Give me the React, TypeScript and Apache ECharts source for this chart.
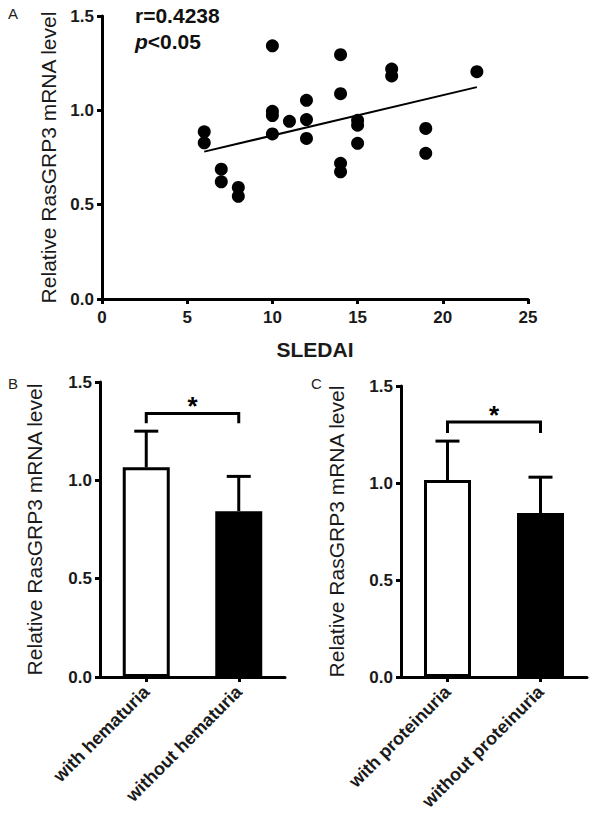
import React, { useEffect, useRef } from "react";
import * as echarts from "echarts";

// Panel A: SLEDAI vs relative RasGRP3 mRNA level
const sledai = [6, 6, 7, 7, 8, 8, 10, 10, 10, 10, 11, 12, 12, 12, 14, 14, 14, 14, 15, 15, 15, 17, 17, 19, 19, 22];
const rasLevel = [0.886, 0.828, 0.688, 0.621, 0.591, 0.544, 1.342, 0.995, 0.972, 0.875, 0.942, 1.053, 0.951, 0.851, 1.295, 1.088, 0.719, 0.674, 0.947, 0.921, 0.825, 1.219, 1.182, 0.904, 0.772, 1.205];
const fitX = [6, 22];
const fitY = [0.781, 1.123];
const corrText = "r=0.4238";
const pText = "<0.05";

// Panel B
const catsB = ["with hematuria", "without hematuria"];
const meanB = [1.066, 0.843];
const errTopB = [1.25, 1.02];
const bracketB = [1.34, 1.29]; // top, leg end

// Panel C
const catsC = ["with proteinuria", "without proteinuria"];
const meanC = [1.015, 0.845];
const errTopC = [1.216, 1.03];
const bracketC = [1.314, 1.258];

const yTicks = [0, 0.5, 1.0, 1.5];
const xTicksA = [0, 5, 10, 15, 20, 25];
const yTitle = "Relative RasGRP3 mRNA level";

const FONT = "'Liberation Sans', Arial, Helvetica, sans-serif";

export default function App() {
  const ref = useRef<HTMLDivElement>(null);
  useEffect(() => {
    const chart = echarts.init(ref.current!, null, { renderer: "svg" });

    const axisLine = { show: true, onZero: false, lineStyle: { color: "#000", width: 3 } };
    const axisTick = { show: true, length: 5, lineStyle: { color: "#000", width: 3 } };
    const tickLabel = { color: "#1a1a1a", fontSize: 17, fontWeight: "bold" as const, fontFamily: FONT };

    const yAxisBase = (gridIndex: number, gap: number) => ({
      type: "value",
      gridIndex,
      min: yTicks[0],
      max: yTicks[yTicks.length - 1],
      interval: 0.5,
      axisLine,
      axisTick,
      splitLine: { show: false },
      axisLabel: { ...tickLabel, margin: 8, formatter: (v: number) => v.toFixed(1) },
      name: yTitle,
      nameLocation: "middle",
      nameGap: gap,
      nameTextStyle: { color: "#1a1a1a", fontSize: 21, fontFamily: FONT },
    });

    const catAxis = (gridIndex: number, data: string[]) => ({
      type: "category",
      gridIndex,
      data,
      axisLine,
      axisTick: { ...axisTick, alignWithLabel: true, interval: 0 },
      axisLabel: { ...tickLabel, fontSize: 18, rotate: 45, margin: 12, interval: 0 },
    });

    const errorSeries = (xAxisIndex: number, yAxisIndex: number, means: number[], tops: number[]) => ({
      type: "custom",
      xAxisIndex,
      yAxisIndex,
      encode: { x: 0, y: 1 },
      data: means.map((m, i) => [i, m, tops[i]]),
      z: 5,
      renderItem: (params: any, api: any) => {
        const i = api.value(0);
        const p0 = api.coord([i, api.value(1)]);
        const p1 = api.coord([i, api.value(2)]);
        const half = 12;
        const style = { stroke: "#000", lineWidth: 3 };
        return {
          type: "group",
          children: [
            { type: "line", shape: { x1: p0[0], y1: p0[1], x2: p1[0], y2: p1[1] }, style },
            { type: "line", shape: { x1: p1[0] - half, y1: p1[1], x2: p1[0] + half, y2: p1[1] }, style },
          ],
        };
      },
    });

    const bracketSeries = (xAxisIndex: number, yAxisIndex: number, br: number[]) => ({
      type: "custom",
      xAxisIndex,
      yAxisIndex,
      encode: { x: 0, y: 1 },
      data: [[0, br[0], 1, br[1]]],
      renderItem: (params: any, api: any) => {
        const a = api.coord([api.value(0), api.value(3)]);
        const b = api.coord([api.value(0), api.value(1)]);
        const c = api.coord([api.value(2), api.value(1)]);
        const d = api.coord([api.value(2), api.value(3)]);
        return {
          type: "group",
          children: [
            {
              type: "polyline",
              shape: { points: [a, b, c, d] },
              style: { stroke: "#000", lineWidth: 3, fill: "none" },
            },
            {
              type: "text",
              x: (b[0] + c[0]) / 2,
              y: b[1] + 6,
              style: {
                text: "*",
                fontSize: 26,
                fontWeight: "bold",
                fontFamily: FONT,
                fill: "#000",
                align: "center",
                verticalAlign: "bottom",
              },
            },
          ],
        };
      },
    });

    const barSeries = (xAxisIndex: number, yAxisIndex: number, means: number[]) => ({
      type: "bar",
      xAxisIndex,
      yAxisIndex,
      barWidth: 47,
      z: 3,
      data: means.map((m, i) => ({
        value: m,
        itemStyle:
          i === 0
            ? { color: "#fff", borderColor: "#000", borderWidth: 3 }
            : { color: "#000", borderColor: "#000", borderWidth: 3 },
      })),
    });

    chart.setOption({
      animation: false,
      backgroundColor: "#fff",
      grid: [
        { left: 102, top: 16, width: 426, height: 283 },
        { left: 100, top: 382, width: 185, height: 295 },
        { left: 401, top: 386, width: 186, height: 291 },
      ],
      xAxis: [
        {
          type: "value",
          gridIndex: 0,
          min: xTicksA[0],
          max: xTicksA[xTicksA.length - 1],
          interval: 5,
          axisLine,
          axisTick,
          splitLine: { show: false },
          axisLabel: { ...tickLabel, margin: 10 },
          name: "SLEDAI",
          nameLocation: "middle",
          nameGap: 40,
          nameTextStyle: { color: "#1a1a1a", fontSize: 21, fontWeight: "bold", fontFamily: FONT, verticalAlign: "top" },
        },
        catAxis(1, catsB),
        catAxis(2, catsC),
      ],
      yAxis: [yAxisBase(0, 42), yAxisBase(1, 55), yAxisBase(2, 54)],
      graphic: [
        { type: "text", left: 8, top: 6, style: { text: "A", fontSize: 15, fontFamily: FONT, fill: "#222" } },
        { type: "text", left: 8, top: 376, style: { text: "B", fontSize: 15, fontFamily: FONT, fill: "#222" } },
        { type: "text", left: 311, top: 376, style: { text: "C", fontSize: 15, fontFamily: FONT, fill: "#222" } },
        {
          type: "text",
          left: 135,
          top: 5,
          style: { text: corrText, fontSize: 21, fontWeight: "bold", fontFamily: FONT, fill: "#111" },
        },
        {
          type: "text",
          left: 135,
          top: 31,
          style: {
            text: "{i|p}{n|" + pText + "}",
            rich: {
              i: { fontSize: 21, fontWeight: "bold", fontStyle: "italic", fontFamily: FONT, fill: "#111" },
              n: { fontSize: 21, fontWeight: "bold", fontFamily: FONT, fill: "#111" },
            },
          },
        },
      ],
      series: [
        {
          type: "scatter",
          xAxisIndex: 0,
          yAxisIndex: 0,
          symbolSize: 13,
          itemStyle: { color: "#000", opacity: 1 },
          data: sledai.map((x, i) => [x, rasLevel[i]]),
        },
        {
          type: "line",
          xAxisIndex: 0,
          yAxisIndex: 0,
          symbol: "none",
          lineStyle: { color: "#000", width: 2 },
          data: fitX.map((x, i) => [x, fitY[i]]),
        },
        barSeries(1, 1, meanB),
        errorSeries(1, 1, meanB, errTopB),
        bracketSeries(1, 1, bracketB),
        barSeries(2, 2, meanC),
        errorSeries(2, 2, meanC, errTopC),
        bracketSeries(2, 2, bracketC),
      ],
    });
    return () => chart.dispose();
  }, []);
  return (
    <div
      ref={ref}
      style={{ position: "absolute", left: 0, top: 0, width: 600, height: 820, background: "#fff" }}
    />
  );
}
